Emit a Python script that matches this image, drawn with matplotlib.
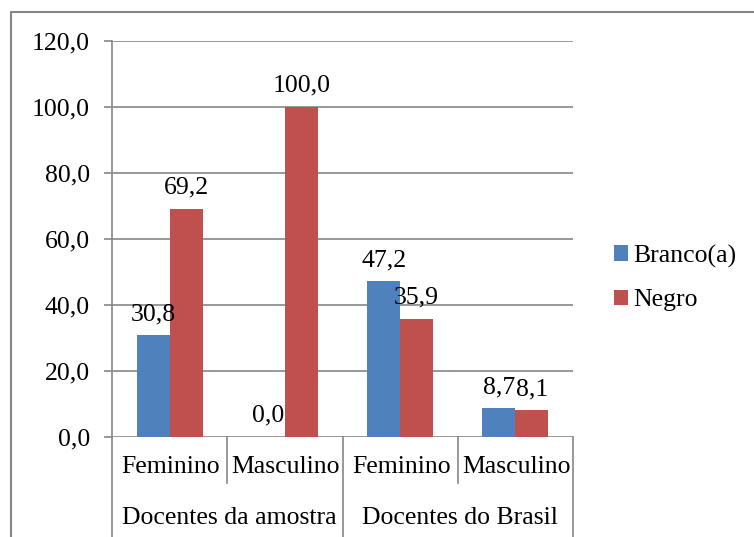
import matplotlib.pyplot as plt
import matplotlib.transforms as mtransforms
from matplotlib.lines import Line2D

# Dados: percentual de docentes por cor/raça e sexo
grupos = ["Docentes da amostra", "Docentes do Brasil"]
sexos = ["Feminino", "Masculino", "Feminino", "Masculino"]
branco = [30.8, 0.0, 47.2, 8.7]
negro = [69.2, 100.0, 35.9, 8.1]
series = ["Branco(a)", "Negro"]
yticks = [0, 20, 40, 60, 80, 100, 120]

azul = "#4F81BD"
vermelho = "#C0504D"
cinza = "#868686"

plt.rcParams["font.family"] = ["Liberation Serif", "DejaVu Serif"]
fs = 18.5

W, H = 754, 537
fig = plt.figure(figsize=(W / 100, H / 100), dpi=100)

# moldura externa (só topo e lado esquerdo aparecem)
fig.add_artist(Line2D([11 / W, 11 / W, 1], [0, 1 - 12 / H, 1 - 12 / H],
                      transform=fig.transFigure, color=cinza, lw=1.5))

ax = fig.add_axes([112 / W, 1 - 437 / H, (573 - 112) / W, (437 - 41) / H])

x = list(range(len(sexos)))
larg = 0.286
b1 = ax.bar([i - larg / 2 for i in x], branco, larg, color=azul, label=series[0], zorder=3)
b2 = ax.bar([i + larg / 2 for i in x], negro, larg, color=vermelho, label=series[1], zorder=3)

def rotular(barras, valores):
    for r, v in zip(barras, valores):
        ax.annotate(f"{v:.1f}".replace(".", ","),
                    (r.get_x() + r.get_width() / 2, v),
                    xytext=(0, 11), textcoords="offset points",
                    ha="center", va="baseline", fontsize=fs, zorder=4)

rotular(b1, branco)
rotular(b2, negro)

ax.set_xlim(-0.5, len(sexos) - 0.5)
ax.set_ylim(0, 120)
ax.set_yticks(yticks)
ax.set_yticklabels([f"{v:.1f}".replace(".", ",") for v in yticks], fontsize=fs)
ax.set_xticks([])
ax.yaxis.grid(True, color=cinza, lw=1.2, zorder=0)
ax.tick_params(axis="y", length=6, width=1.2, color=cinza, pad=10)
for lado in ["top", "right", "bottom"]:
    ax.spines[lado].set_visible(False)
ax.spines["left"].set_color(cinza)
ax.spines["left"].set_linewidth(1.2)

# eixo de categorias em dois níveis
trans = mtransforms.blended_transform_factory(ax.transData, fig.transFigure)
y0 = 1 - 437 / H
y_meio = 1 - 483 / H
for xi in [-0.5, 1.5, 3.5]:
    fig.add_artist(Line2D([xi, xi], [y0, 0], transform=trans, color=cinza, lw=1.2))
for xi in [0.5, 2.5]:
    fig.add_artist(Line2D([xi, xi], [y0, y_meio], transform=trans, color=cinza, lw=1.2))

for i, s in enumerate(sexos):
    fig.text(i + 0.01, 1 - 467 / H, s, transform=trans, ha="center", va="center", fontsize=fs)
for j, g in enumerate(grupos):
    fig.text(2 * j + 0.52, 1 - 518 / H, g, transform=trans, ha="center", va="center", fontsize=fs)

fig.legend(handles=[b1, b2], loc="center left", bbox_to_anchor=(614 / W, 1 - 278 / H),
           frameon=False, fontsize=fs, handlelength=0.55, handleheight=0.55,
           handletextpad=0.2, labelspacing=0.85, borderpad=0, borderaxespad=0)

fig.savefig("out.png", dpi=100)
